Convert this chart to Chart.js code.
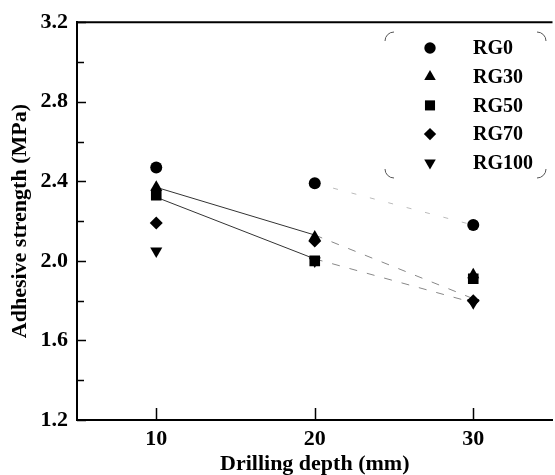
<!DOCTYPE html>
<html>
<head>
<meta charset="utf-8">
<script src="https://cdn.jsdelivr.net/npm/chart.js@4.4.1/dist/chart.umd.min.js"></script>
<style>
  html, body { margin: 0; padding: 0; background: #fff; overflow: hidden; }
  #wrap { width: 560px; height: 475px; }
</style>
</head>
<body>
<div id="wrap"><canvas id="chart" width="560" height="475"></canvas></div>
<script>
// Drilling depth (mm) and adhesive strength (MPa)
const depths = [10, 20, 30];
const rg0 = [2.47, 2.39, 2.18];
const rg30 = [2.37, 2.12, 1.93];
const rg50 = [2.33, 2.00, 1.91];
const rg70 = [2.19, 2.10, 1.80];
const rg100 = [2.05, 2.00, 1.79];

// faint connecting lines visible in the scan
const trendA = [2.37, 2.13, 1.81];
const trendB = [2.32, 2.01, 1.79];
const trendC = [null, 2.39, 2.18];

const xTicks = [10, 20, 30];
const yTicks = [1.2, 1.6, 2.0, 2.4, 2.8, 3.2];
const yMinor = [1.4, 1.8, 2.2, 2.6, 3.0];

const FONT = "'Liberation Serif', 'Times New Roman', serif";

function pts(values) {
  return depths.map((d, i) => ({ x: d, y: values[i] }));
}

function marker(label, values, style, radius, rotation) {
  return {
    label: label,
    data: pts(values),
    pointStyle: style,
    pointRadius: radius,
    pointHoverRadius: radius,
    pointRotation: rotation || 0,
    backgroundColor: "#000",
    borderColor: "#000",
    borderWidth: 0,
    showLine: false,
    order: 0,
    inLegend: true
  };
}

function trend(values, solidColor, dashColor, dash) {
  return {
    type: "line",
    label: "",
    data: pts(values),
    borderColor: solidColor,
    borderWidth: 1,
    pointRadius: 0,
    fill: false,
    spanGaps: false,
    order: 10,
    segment: {
      borderDash: ctx => ctx.p0DataIndex >= 1 ? dash : undefined,
      borderColor: ctx => ctx.p0DataIndex >= 1 ? dashColor : solidColor
    }
  };
}

const datasets = [
  marker("RG0", rg0, "circle", 6),
  marker("RG30", rg30, "triangle", 7),
  marker("RG50", rg50, "rect", 7.5),
  marker("RG70", rg70, "rectRot", 6.5),
  marker("RG100", rg100, "triangle", 7, 180),
  trend(trendA, "#333", "#888", [8, 10]),
  trend(trendB, "#333", "#888", [8, 10]),
  trend(trendC, "#bbb", "#bbb", [5, 14])
];

// axis frame, inward ticks and the boxed legend
const decor = {
  id: "decor",
  afterDraw(chart) {
    const ctx = chart.ctx;
    const a = chart.chartArea;
    const xs = chart.scales.x, ys = chart.scales.y;
    ctx.save();
    ctx.strokeStyle = "#000";
    ctx.lineWidth = 2;
    ctx.beginPath();
    ctx.moveTo(a.left, a.top);
    ctx.lineTo(a.right, a.top);
    ctx.stroke();

    ctx.lineWidth = 1.5;
    ctx.beginPath();
    yTicks.forEach(v => {
      const y = Math.round(ys.getPixelForValue(v)) + 0.5;
      ctx.moveTo(a.left, y); ctx.lineTo(a.left + 9, y);
    });
    yMinor.forEach(v => {
      const y = Math.round(ys.getPixelForValue(v)) + 0.5;
      ctx.moveTo(a.left, y); ctx.lineTo(a.left + 7, y);
    });
    xTicks.forEach(v => {
      const x = Math.round(xs.getPixelForValue(v)) + 0.5;
      ctx.moveTo(x, a.bottom); ctx.lineTo(x, a.bottom - 12);
    });
    ctx.stroke();

    // legend box: only the rounded corners show in the scan
    const bx0 = 385, bx1 = 546, by0 = 32, by1 = 178, r = 9;
    ctx.strokeStyle = "#555";
    ctx.lineWidth = 1;
    ctx.beginPath();
    ctx.arc(bx0 + r, by0 + r, r, Math.PI, 1.5 * Math.PI);
    ctx.moveTo(bx1 - r, by0);
    ctx.arc(bx1 - r, by0 + r, r, 1.5 * Math.PI, 2 * Math.PI);
    ctx.moveTo(bx1, by1 - r);
    ctx.arc(bx1 - r, by1 - r, r, 0, 0.5 * Math.PI);
    ctx.moveTo(bx0 + r, by1);
    ctx.arc(bx0 + r, by1 - r, r, 0.5 * Math.PI, Math.PI);
    ctx.stroke();

    let row = 0;
    chart.data.datasets.forEach(ds => {
      if (!ds.inLegend) return;
      const y = 48 + row * 28.7;
      ctx.fillStyle = "#000";
      Chart.helpers.drawPoint(ctx, {
        pointStyle: ds.pointStyle,
        rotation: ds.pointRotation,
        radius: ds.pointRadius * 0.95,
        borderWidth: 0
      }, 430, y);
      ctx.font = "bold 20px " + FONT;
      ctx.textBaseline = "middle";
      ctx.textAlign = "left";
      ctx.fillText(ds.label, 473, y + 1);
      row++;
    });
    ctx.restore();
  }
};

new Chart(document.getElementById("chart"), {
  type: "scatter",
  data: { datasets: datasets },
  options: {
    responsive: false,
    animation: false,
    events: [],
    layout: { padding: { top: 19, right: 1, left: 0, bottom: 0 } },
    plugins: {
      legend: { display: false },
      tooltip: { enabled: false }
    },
    scales: {
      x: {
        type: "linear",
        min: 5,
        max: 35,
        grid: { display: false, drawTicks: false },
        border: { display: true, color: "#000", width: 2 },
        afterBuildTicks: s => { s.ticks = xTicks.map(v => ({ value: v })); },
        afterFit: s => { s.height = 55; },
        ticks: {
          color: "#000",
          padding: 6,
          font: { family: FONT, size: 22, weight: "bold" }
        },
        title: {
          display: true,
          text: "Drilling depth (mm)",
          color: "#000",
          padding: 0,
          font: { family: FONT, size: 22, weight: "bold", lineHeight: 1 }
        }
      },
      y: {
        min: 1.2,
        max: 3.2,
        grid: { display: false, drawTicks: false },
        border: { display: true, color: "#000", width: 2 },
        afterBuildTicks: s => { s.ticks = yTicks.map(v => ({ value: v })); },
        afterFit: s => { s.width = 77; },
        ticks: {
          color: "#000",
          padding: 9,
          callback: v => Number(v).toFixed(1),
          font: { family: FONT, size: 22, weight: "bold" }
        },
        title: {
          display: true,
          text: "Adhesive strength (MPa)",
          color: "#000",
          padding: { top: 9, bottom: 0 },
          font: { family: FONT, size: 22, weight: "bold", lineHeight: 1 }
        }
      }
    }
  },
  plugins: [decor]
});
</script>
</body>
</html>
